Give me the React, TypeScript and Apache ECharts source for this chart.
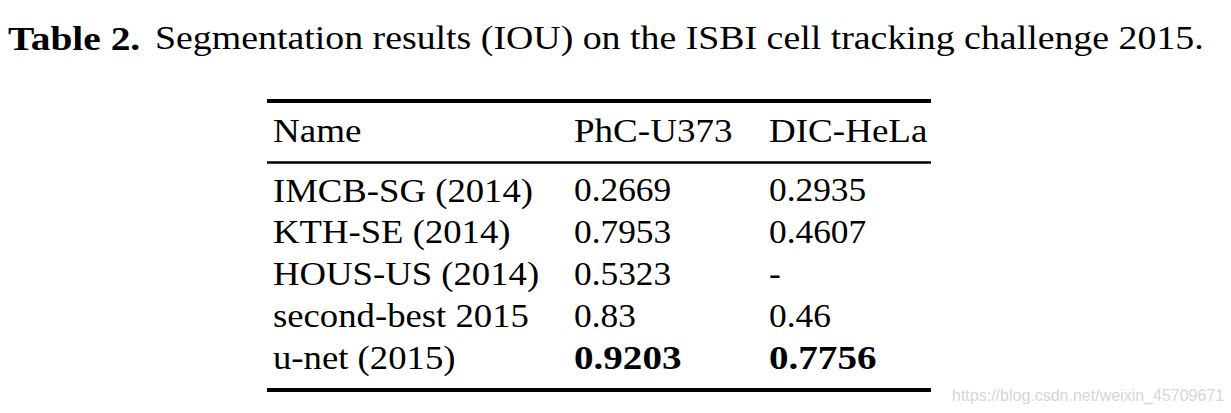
import React, { useEffect, useRef } from "react";
import * as echarts from "echarts";

const titleBold = "Table 2.";
const titleRest = "Segmentation results (IOU) on the ISBI cell tracking challenge 2015.";
const headers = ["Name", "PhC-U373", "DIC-HeLa"];
const names = ["IMCB-SG (2014)", "KTH-SE (2014)", "HOUS-US (2014)", "second-best 2015", "u-net (2015)"];
const phcU373 = ["0.2669", "0.7953", "0.5323", "0.83", "0.9203"];
const dicHeLa = ["0.2935", "0.4607", "-", "0.46", "0.7756"];
const boldRow = [false, false, false, false, true];
const watermark = "https://blog.csdn.net/weixin_45709671";

const FONT = "'Liberation Serif', 'DejaVu Serif', serif";
const FS = 34;

export default function App() {
  const ref = useRef<HTMLDivElement>(null);
  useEffect(() => {
    const chart = echarts.init(ref.current!, null, { renderer: "svg" });
    const colX = [273, 574, 769];
    const rowY0 = 190;
    const rowStep = 41.8;
    const els: any[] = [];
    const txt = (x: number, y: number, t: string, bold: boolean, sx: number) => ({
      type: "text",
      x,
      y,
      scaleX: sx,
      style: {
        text: t,
        fontFamily: FONT,
        fontSize: FS,
        fontWeight: bold ? "bold" : "normal",
        fill: "#000",
        textVerticalAlign: "middle",
        textAlign: "left",
      },
    });
    els.push(txt(8, 38, titleBold, true, 1.16));
    els.push(txt(155, 38, titleRest, false, 1.113));
    els.push({ type: "line", shape: { x1: 267, y1: 101, x2: 931, y2: 101 }, style: { stroke: "#000", lineWidth: 4 } });
    headers.forEach((h, i) => els.push(txt(colX[i], 131, h, false, 1.09)));
    els.push({ type: "line", shape: { x1: 267, y1: 162.5, x2: 931, y2: 162.5 }, style: { stroke: "#000", lineWidth: 2.5 } });
    names.forEach((n, i) => {
      const y = rowY0 + i * rowStep;
      els.push(txt(colX[0], y, n, false, 1.08));
      els.push(txt(colX[1], y, phcU373[i], boldRow[i], boldRow[i] ? 1.15 : 1.04));
      els.push(txt(colX[2], y, dicHeLa[i], boldRow[i], boldRow[i] ? 1.15 : 1.04));
    });
    els.push({ type: "line", shape: { x1: 267, y1: 390, x2: 931, y2: 390 }, style: { stroke: "#000", lineWidth: 4 } });
    els.push({
      type: "text",
      x: 952,
      y: 395,
      style: { text: watermark, fontFamily: "'Liberation Sans', Arial, sans-serif", fontSize: 16, fill: "#d6d6d6", textVerticalAlign: "middle" },
    });
    chart.setOption({ animation: false, backgroundColor: "#fff", graphic: { elements: els } });
    return () => chart.dispose();
  }, []);
  return <div ref={ref} style={{ position: "fixed", left: 0, top: 0, width: 1231, height: 413 }} />;
}
